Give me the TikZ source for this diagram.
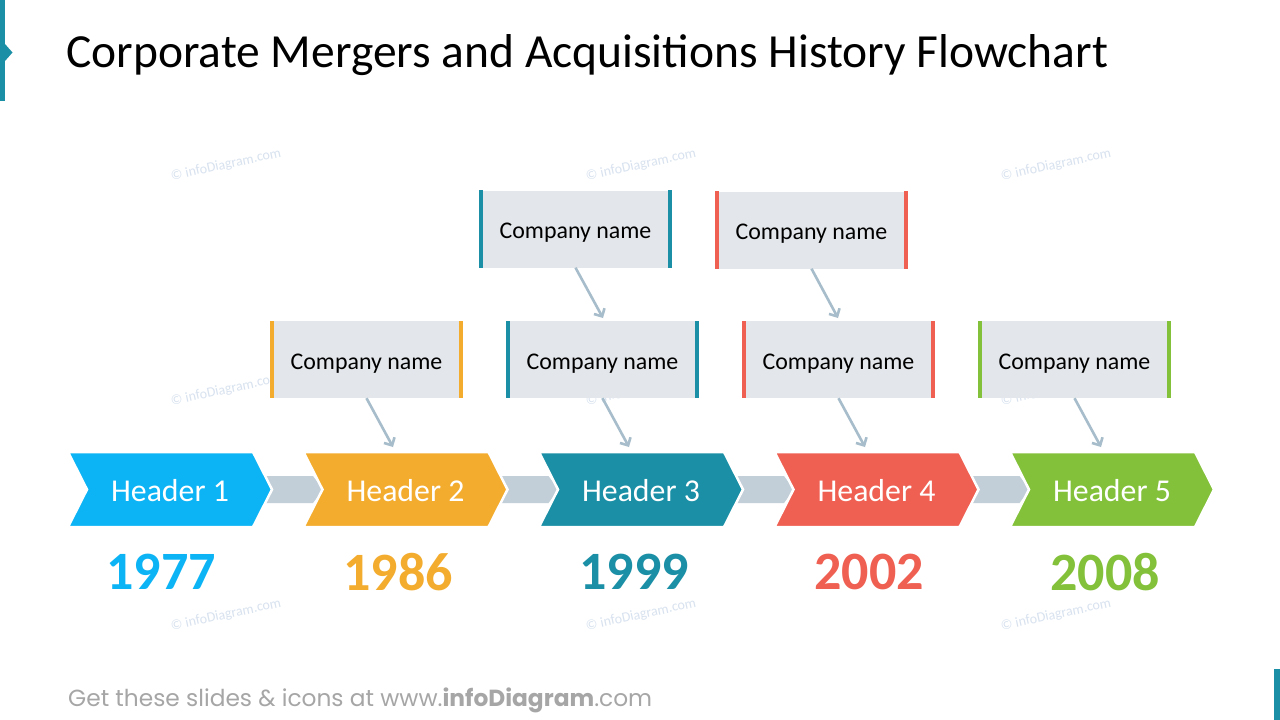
\documentclass[tikz,border=0pt]{standalone}
\usepackage{fontspec}
\setmainfont{Carlito}
\newfontfamily\footfont{Poppins}
\usetikzlibrary{arrows.meta}
\definecolor{accent}{HTML}{1A8FA5}
\definecolor{cblue}{HTML}{0CB4F5}
\definecolor{corange}{HTML}{F3AC2E}
\definecolor{cteal}{HTML}{1A8FA5}
\definecolor{cred}{HTML}{EF6052}
\definecolor{cgreen}{HTML}{84C13A}
\definecolor{gapgrey}{HTML}{C2CFD8}
\definecolor{boxgrey}{HTML}{E3E6EA}
\definecolor{arrowgrey}{HTML}{A7BDCB}
\definecolor{wmcol}{HTML}{D8E2EF}
\definecolor{footgrey}{HTML}{A6A6A6}
\tikzset{
  hdrshape/.style={fill=#1, draw=white, line width=2.5pt, line join=miter},
  hdrtext/.style={text=white, font=\fontsize{31.8}{36}\selectfont, inner sep=0pt},
  yeartext/.style={text=#1, font=\bfseries\fontsize{54}{60}\selectfont, inner sep=0pt},
  cbox/.style={fill=boxgrey, minimum width=193pt, minimum height=77pt, inner sep=0pt},
  ctext/.style={inner sep=0pt, font=\fontsize{23.9}{28}\selectfont},
  conn/.style={draw=arrowgrey, line width=2.6pt, -{Straight Barb[length=6pt,width=12pt]}},
  wm/.style={text=wmcol, font=\fontsize{14}{16}\selectfont, rotate=12, inner sep=0pt}
}
\begin{document}
\begin{tikzpicture}[x=1pt,y=-1pt]
\useasboundingbox (0,0) rectangle (1280,720);
\fill[white] (0,0) rectangle (1280,720);
% accents
\fill[accent] (0,0) rectangle (5.3,101);
\fill[accent] (5,44) -- (12.5,52.5) -- (5,61) -- cycle;
\fill[accent] (1274,669) rectangle (1280,720);
% title
\node[anchor=base west, inner sep=0pt, font=\fontsize{47.5}{54}\selectfont] (title) at (66,67) {Corporate Mergers and Acquisitions History Flowchart};
% watermarks
\foreach \wx/\wy [count=\i] in {226/165,641/165,1056/165,226/390,641/390,1056/390,226/615,641/615,1056/615}
  \node[wm] (wm\i) at (\wx,\wy) {© infoDiagram.com};
% grey gap chevrons
\foreach \k in {0,1,2,3} {
  \pgfmathsetmacro{\ox}{235.5*\k}
  \fill[gapgrey, shift={(\ox,0)}] (258,476) -- (313,476) -- (323,489.5) -- (313,503) -- (258,503) -- (268,489.5) -- cycle;
}
% header chevrons
\foreach \k/\col in {0/cblue,1/corange,2/cteal,3/cred,4/cgreen} {
  \pgfmathsetmacro{\ox}{235.5*\k}
  \path[hdrshape=\col, shift={(\ox,0)}] (68,452) -- (253,452) -- (272,489.5) -- (253,527) -- (68,527) -- (87,489.5) -- cycle;
}
\node[hdrtext] (h1) at (170,491) {Header 1};
\node[hdrtext] (h2) at (405.5,491) {Header 2};
\node[hdrtext] (h3) at (641,491) {Header 3};
\node[hdrtext] (h4) at (876.5,491) {Header 4};
\node[hdrtext] (h5) at (1112,491) {Header 5};
% years
\node[yeartext=cblue] (y1) at (161,572) {1977};
\node[yeartext=corange] (y2) at (398,572) {1986};
\node[yeartext=cteal] (y3) at (634,572) {1999};
\node[yeartext=cred] (y4) at (869,572) {2002};
\node[yeartext=cgreen] (y5) at (1105,572) {2008};
% company boxes
\node[cbox] (ca) at (366.5,359.5) {};
\node[cbox] (cb) at (602.5,359.5) {};
\node[cbox] (cc) at (838.5,359.5) {};
\node[cbox] (cd) at (1074.5,359.5) {};
\node[cbox] (ce) at (575.5,229) {};
\node[cbox] (cf) at (811.5,230) {};
\foreach \n/\col in {ca/corange,cb/cteal,cc/cred,cd/cgreen,ce/cteal,cf/cred} {
  \fill[\col] (\n.north west) rectangle ([xshift=4pt]\n.south west);
  \fill[\col] ([xshift=-4pt]\n.north east) rectangle (\n.south east);
  \node[ctext] (\n-t) at ([yshift=-4pt]\n.center) {Company name};
}
% arrow targets
\coordinate (ta) at (393,447);
\coordinate (tb) at (629,447);
\coordinate (tc) at (865,447);
\coordinate (td) at (1101,447);
\coordinate (te) at (603,318);
\coordinate (tf) at (838,318);
\draw[conn] (ca.south) -- (ta);
\draw[conn] (cb.south) -- (tb);
\draw[conn] (cc.south) -- (tc);
\draw[conn] (cd.south) -- (td);
\draw[conn] (ce.south) -- (te);
\draw[conn] (cf.south) -- (tf);
% footer
\node[anchor=base west, inner sep=0pt, text=footgrey, font=\footfont\fontsize{23.3}{27}\selectfont] (foot) at (68,706) {Get these slides \& icons at www.\textbf{infoDiagram}.com};
\end{tikzpicture}
\end{document}
